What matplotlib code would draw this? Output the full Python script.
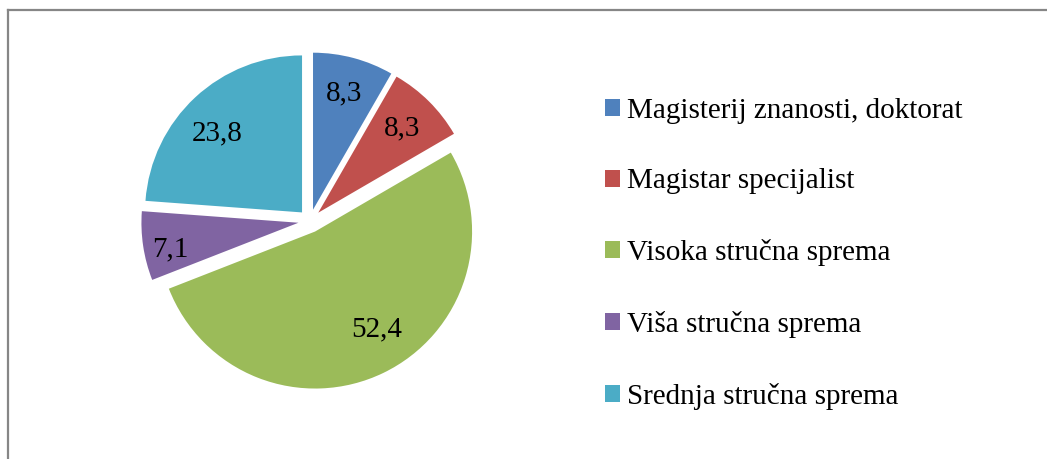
import numpy as np
import matplotlib
matplotlib.use('Agg')
import matplotlib.pyplot as plt
from matplotlib.lines import Line2D
from matplotlib.patches import Patch

plt.rcParams['font.family'] = ['Liberation Serif', 'DejaVu Serif']

# podaci
kategorije = ['Magisterij znanosti, doktorat', 'Magistar specijalist',
              'Visoka stručna sprema', 'Viša stručna sprema',
              'Srednja stručna sprema']
vrijednosti = [8.3, 8.3, 52.4, 7.1, 23.8]
oznake = ['8,3', '8,3', '52,4', '7,1', '23,8']
boje = ['#4F81BD', '#C0504D', '#9BBB59', '#8064A2', '#4BACC6']

# položaj oznaka: udaljenost od središta i pomak kuta (stupnjevi)
oznaka_r = [0.77, 0.76, 0.74, 0.835, 0.74]
oznaka_pomak = [0, 0, 6.5, 3, 4]

fig = plt.figure(figsize=(10.47, 4.59), dpi=100)
W, H = 1047, 459

# okvir (gore i lijevo)
fig.add_artist(Line2D([8 / W, 8 / W], [0, 1 - 10 / H], transform=fig.transFigure,
                      color='#868686', lw=1.6))
fig.add_artist(Line2D([8 / W, 1], [1 - 10 / H, 1 - 10 / H], transform=fig.transFigure,
                      color='#868686', lw=1.6))

# pita: središte (310, 221) px, polumjer 157 px
R = 157
half = 1.2 * R
ax = fig.add_axes([(310 - half) / W, (H - 221 - half) / H, 2 * half / W, 2 * half / H])
explode = [0.0745] * len(vrijednosti)
wedges, _ = ax.pie(vrijednosti, colors=boje, startangle=90, counterclock=False,
                   explode=explode, radius=1.0,
                   wedgeprops=dict(linewidth=0))
ax.set_xlim(-1.2, 1.2)
ax.set_ylim(-1.2, 1.2)
ax.set_aspect('equal')
ax.axis('off')

for w, txt, r, d, e in zip(wedges, oznake, oznaka_r, oznaka_pomak, explode):
    mid = np.deg2rad((w.theta1 + w.theta2) / 2.0)
    cx = e * np.cos(mid)
    cy = e * np.sin(mid)
    a = mid + np.deg2rad(d)
    ax.text(cx + r * np.cos(a), cy + r * np.sin(a), txt,
            ha='center', va='center', fontsize=21)

handles = [Patch(facecolor=c, edgecolor='none') for c in boje]
fig.legend(handles, kategorije, loc='upper left',
           bbox_to_anchor=(593 / W, 1 - 86 / H), frameon=False,
           fontsize=21, handlelength=0.52, handleheight=0.52,
           handletextpad=0.25, labelspacing=1.535, borderaxespad=0)

fig.savefig('out.png', dpi=100)
